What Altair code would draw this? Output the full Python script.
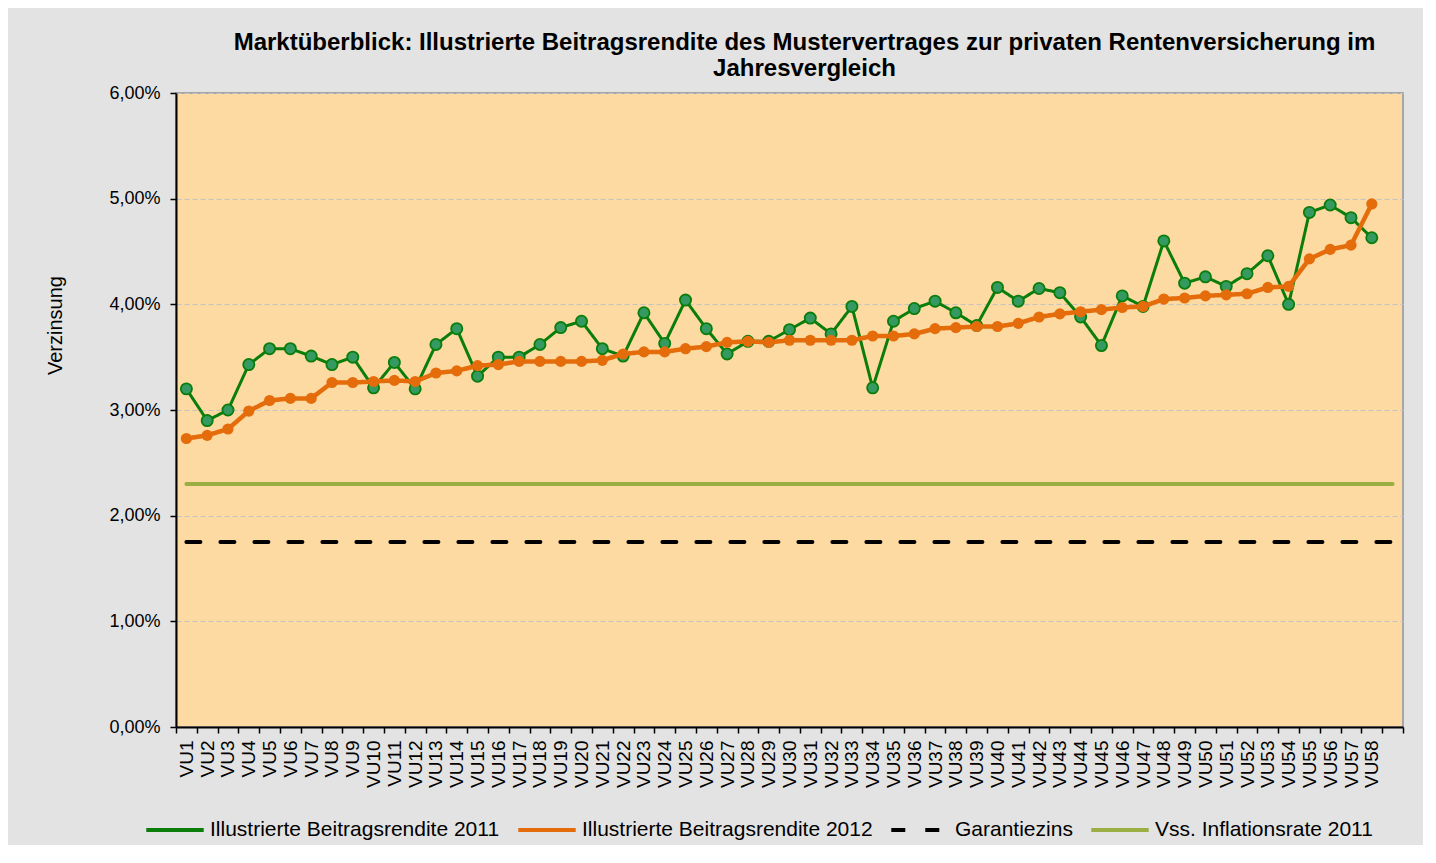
import altair as alt
import pandas as pd

CATEGORIES = [
    "VU1", "VU2", "VU3", "VU4", "VU5", "VU6", "VU7", "VU8", "VU9", "VU10",
    "VU11", "VU12", "VU13", "VU14", "VU15", "VU16", "VU17", "VU18", "VU19", "VU20",
    "VU21", "VU22", "VU23", "VU24", "VU25", "VU26", "VU27", "VU28", "VU29", "VU30",
    "VU31", "VU32", "VU33", "VU34", "VU35", "VU36", "VU37", "VU38", "VU39", "VU40",
    "VU41", "VU42", "VU43", "VU44", "VU45", "VU46", "VU47", "VU48", "VU49", "VU50",
    "VU51", "VU52", "VU53", "VU54", "VU55", "VU56", "VU57", "VU58",
]
# Excel category axis has one extra, empty slot at the end
AXIS_SLOTS = CATEGORIES + [" "]

RENDITE_2011 = [
    3.20, 2.90, 3.00, 3.43, 3.58, 3.58, 3.51, 3.43, 3.50, 3.21,
    3.45, 3.20, 3.62, 3.77, 3.32, 3.50, 3.50, 3.62, 3.78, 3.84,
    3.58, 3.51, 3.92, 3.63, 4.04, 3.77, 3.53, 3.65, 3.65, 3.76,
    3.87, 3.72, 3.98, 3.21, 3.84, 3.96, 4.03, 3.92, 3.80, 4.16,
    4.03, 4.15, 4.11, 3.88, 3.61, 4.08, 3.98, 4.60, 4.20, 4.26,
    4.17, 4.29, 4.46, 4.00, 4.87, 4.94, 4.82, 4.63,
]
RENDITE_2012 = [
    2.73, 2.76, 2.82, 2.99, 3.09, 3.11, 3.11, 3.26, 3.26, 3.27,
    3.28, 3.27, 3.35, 3.37, 3.42, 3.43, 3.46, 3.46, 3.46, 3.46,
    3.47, 3.53, 3.55, 3.55, 3.58, 3.60, 3.64, 3.65, 3.64, 3.66,
    3.66, 3.66, 3.66, 3.70, 3.70, 3.72, 3.77, 3.78, 3.79, 3.79,
    3.82, 3.88, 3.91, 3.93, 3.95, 3.97, 3.98, 4.05, 4.06, 4.08,
    4.09, 4.10, 4.16, 4.17, 4.43, 4.52, 4.56, 4.95,
]
GARANTIEZINS = 1.75
INFLATION_2011 = 2.30

SERIES = [
    "Illustrierte Beitragsrendite 2011",
    "Illustrierte Beitragsrendite 2012",
    "Garantiezins",
    "Vss. Inflationsrate 2011",
]
COLORS = ["#0A7D0A", "#E46C0A", "#000000", "#9BAE44"]
DASHES = [[1, 0], [1, 0], [14, 20], [1, 0]]

rows = []
for c, v in zip(CATEGORIES, RENDITE_2011):
    rows.append({"cat": c, "series": SERIES[0], "value": v})
for c, v in zip(CATEGORIES, RENDITE_2012):
    rows.append({"cat": c, "series": SERIES[1], "value": v})
for c in AXIS_SLOTS:
    rows.append({"cat": c, "series": SERIES[2], "value": GARANTIEZINS})
    rows.append({"cat": c, "series": SERIES[3], "value": INFLATION_2011})
df = pd.DataFrame(rows)

FONT = "Liberation Sans"

x_enc = alt.X(
    "cat:N",
    scale=alt.Scale(domain=AXIS_SLOTS, paddingInner=0, paddingOuter=0),
    sort=AXIS_SLOTS,
    axis=alt.Axis(
        title=None,
        labelAngle=270,
        labelFontSize=19,
        labelColor="#000000",
        labelPadding=7,
        tickBand="extent",
        tickSize=6,
        tickColor="#000000",
        tickWidth=1.5,
        domainColor="#000000",
        domainWidth=2,
        grid=False,
    ),
)
y_enc = alt.Y(
    "value:Q",
    scale=alt.Scale(domain=[0, 6], nice=False, zero=True),
    axis=alt.Axis(
        title="Verzinsung",
        titleFontSize=20,
        titleFontWeight="normal",
        titleColor="#000000",
        titleAngle=270,
        titleX=-121,
        titleY=232,
        titleAlign="center",
        titleBaseline="middle",
        values=[0, 1, 2, 3, 4, 5, 6],
        labelExpr="replace(format(datum.value, '.2f'), '.', ',') + '%'",
        labelFontSize=18,
        labelColor="#000000",
        labelPadding=10,
        tickSize=6,
        tickColor="#000000",
        tickWidth=1.5,
        domainColor="#000000",
        domainWidth=2,
        grid=True,
        gridColor="#C3C3C3",
        gridDash=[5, 3],
        gridWidth=1,
    ),
)

legend = alt.Legend(
    title=None,
    orient="none",
    legendX=-32,
    legendY=706,
    direction="horizontal",
    columns=4,
    symbolType="stroke",
    symbolSize=3300,
    symbolStrokeWidth=4,
    labelFontSize=21,
    labelLimit=0,
    labelColor="#000000",
    labelOffset=4,
    columnPadding=10,
    padding=0,
)
color_enc = alt.Color(
    "series:N", scale=alt.Scale(domain=SERIES, range=COLORS), legend=legend
)
dash_enc = alt.StrokeDash(
    "series:N", scale=alt.Scale(domain=SERIES, range=DASHES), legend=legend
)

base = alt.Chart(df)


def line_layer(name, width):
    return (
        base.transform_filter(alt.datum.series == name)
        .mark_line(strokeWidth=width, strokeCap="round", strokeJoin="round")
        .encode(x=x_enc, y=y_enc, color=color_enc, strokeDash=dash_enc)
    )


infl = line_layer(SERIES[3], 4)
garant = line_layer(SERIES[2], 4)
line11 = line_layer(SERIES[0], 3)
pts11 = (
    base.transform_filter(alt.datum.series == SERIES[0])
    .mark_circle(size=125, color="#349A62", opacity=1, stroke="#0A7D0A", strokeWidth=1.8)
    .encode(x=x_enc, y=y_enc)
)
line12 = line_layer(SERIES[1], 4.5)
pts12 = (
    base.transform_filter(alt.datum.series == SERIES[1])
    .mark_circle(size=125, color="#E46C0A", opacity=1)
    .encode(x=x_enc, y=y_enc)
)

chart = (
    alt.layer(infl, garant, line11, pts11, line12, pts12)
    .properties(
        width=1227,
        height=634,
        title=alt.TitleParams(
            text=[
                "Marktüberblick: Illustrierte Beitragsrendite des Mustervertrages zur privaten Rentenversicherung im",
                "Jahresvergleich",
            ],
            font=FONT,
            fontSize=24,
            fontWeight="bold",
            color="#000000",
            anchor="middle",
            dx=15,
            offset=3,
            lineHeight=26,
        ),
        autosize=alt.AutoSizeParams(type="none"),
        padding={"left": 168, "top": 85, "right": 20, "bottom": 118},
        background="#E3E3E3",
    )
    .configure(font=FONT)
    .configure_view(fill="#FDDAA2", stroke="#A6A6A6", strokeWidth=2)
)

chart.save("out.html", embed_options={"renderer": "svg", "actions": False})
